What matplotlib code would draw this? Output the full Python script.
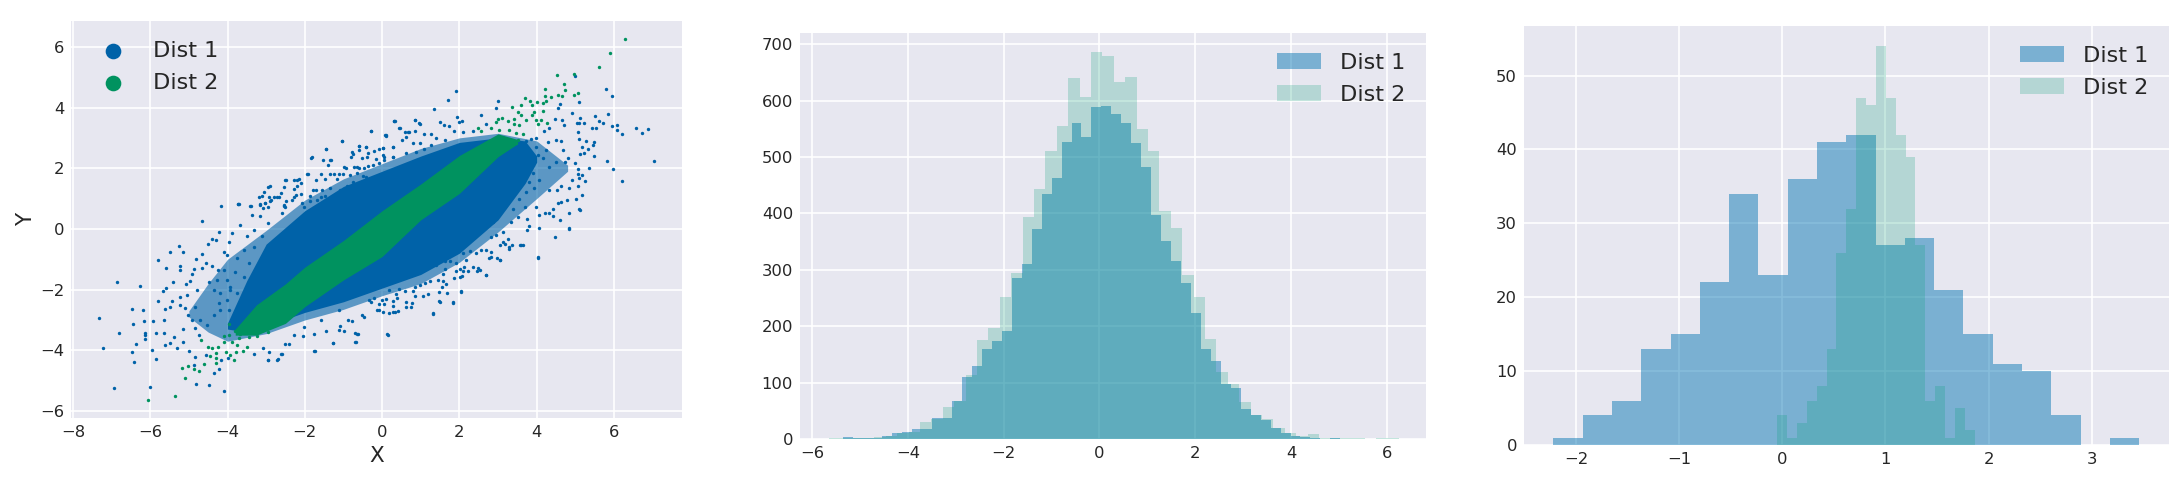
import numpy as np
import matplotlib
matplotlib.use('Agg')
import matplotlib.pyplot as plt

# Scatter points (sparse part of each cloud)
blue_pts = [
    (-4.18,.77),(-4.65,.27),(-3.72,.81),(-3.43,.74),(-5.25,-.57),(-5.48,-.75),(-5.14,-.75),(-5.81,-1.01),(-5.58,-1.29),
    (-5.24,-1.23),(-5.23,-1.37),(-6.86,-1.76),(-6.26,-1.88),(-5.42,-1.74),(-5.58,-1.95),(-5.66,-2.03),(-5.81,-2.36),
    (-5.43,-2.36),(-5.22,-2.52),(-6.48,-2.64),(-6.19,-2.66),(-5.48,-2.58),(-5.62,-2.65),(-7.33,-2.93),(-6.16,-3.03),
    (-6.45,-3.12),(-5.92,-3.04),(-5.64,-3.0),(-6.81,-3.42),(-6.14,-3.42),(-6.13,-3.51),(-5.85,-3.42),(-5.64,-3.44),
    (-6.14,-3.64),(-6.38,-3.78),(-7.21,-3.93),(-5.62,-3.81),(-5.48,-3.75),(-5.32,-3.93),(-5.95,-4.0),(-6.48,-4.05),
    (-6.42,-4.38),(-5.85,-4.30),(-5.0,-4.02),(-4.84,-4.23),(-4.88,-4.48),(-4.56,-4.14),(-4.35,-4.76),(-4.22,-4.63),
    (-4.81,-5.1),(-4.48,-5.13),(-4.08,-5.35),(-6.0,-5.2),(-6.93,-5.25),(-4.16,-4.32),(-4.0,-4.25),(-3.32,-4.13),
    (-2.94,-4.32),(-2.7,-4.29),(-2.6,-4.11),(-2.92,-4.04),(-3.08,-3.93),(-2.42,-3.78),(-1.73,-4.02),(-1.26,-3.75),
    (-.68,-3.71),(-.69,-3.42),(-.62,-3.45),(-.98,-3.38),(-1.45,-3.38),(-1.76,-3.45),(-2.04,-3.54),(-2.29,-3.49),
    (-1.09,-3.2),(-.78,-3.03),(-.46,-2.89),(-5.07,-1.82),(-4.97,-1.71),(-4.91,-1.48),(-4.86,-1.32),(-4.82,-.99),
    (-4.66,-.84),(-4.51,-.51),(-4.39,-.32),(-4.29,-.35),(-4.21,-.11),(-3.96,-.44),(-3.89,-.12),(-3.67,.13),(-3.37,.46),
    (-3.15,.41),(-4.55,-1.13),(-4.39,-1.21),(-4.67,-1.3),(-4.25,-1.37),(-4.1,-1.37),(-4.28,-1.68),(-4.49,-1.74),
    (-4.8,-2.01),(-5.06,-2.18),(-5.23,-2.23),(-4.84,-2.56),(-5.1,-2.62),(-5.01,-2.84),(-4.71,-3.0),(-4.93,-3.0),
    (-4.54,-3.16),(-4.84,-3.27),(-5.14,-3.31),(-5.38,-3.55),(-4.75,-3.49),(-5.14,-3.71),(-4.36,-2.84),(-4.19,-2.67),
    (-4.02,-2.34),(-4.19,-2.12),(-4.36,-2.01),(-3.93,-1.9),(-3.76,-2.12),(-3.8,-1.41),(-3.58,-1.57),(-3.45,-1.13),
    (-3.76,-.97),(-4.02,-.86),(-3.58,-.69),(-3.32,-.58),(-3.11,-.25),(-3.5,-.25),(-3.32,-.03),(-4.1,-.75),(-4.02,-1.68),
    (-4.23,-2.45),(-3.97,-2.67),(-3.58,-2.56),(-3.76,-2.84),(-3.5,-2.34),(-3.93,-2.01),(-3.32,-2.01),(-3.11,-2.23),
    (-3.2,-1.63),(-2.98,-1.24),(-3.06,-.91),(-2.85,-.47),(-2.94,.19),(-2.59,.52),(-3.15,.79),(-3.02,.85),(-2.89,.92),
    (-2.55,.79),(1.91,4.56),(1.71,4.26),(1.35,3.95),(3.0,4.2),(2.94,3.99),(2.56,3.75),(1.94,3.68),(2.07,3.54),(1.98,3.51),
    (.84,3.6),(.32,3.57),(.95,3.48),(1.5,3.53),(1.61,3.41),(1.74,3.4),(1.87,3.23),(.46,3.32),(.09,3.08),(.58,3.18),
    (.69,3.19),(.84,3.21),(.62,3.02),(.51,2.93),(.28,2.71),(.02,2.66),(1.09,3.13),(1.27,3.13),(1.4,2.99),(1.64,2.93),
    (.79,2.82),(.97,2.82),(1.27,2.77),(1.09,2.64),(.28,2.38),(.02,2.42),(.62,2.49),(.88,2.55),(2.69,3.46),(2.34,3.23),
    (2.09,3.19),(5.84,3.77),(5.79,4.61),(5.96,4.38),(4.98,5.04),(5.09,4.19),(4.54,3.98),(4.61,4.1),(4.91,3.81),(5.13,3.65),
    (5.1,3.5),(5.22,3.48),(5.05,3.48),(5.51,3.71),(5.6,3.55),(5.42,3.32),(5.53,3.31),(5.72,3.48),(5.94,3.38),(6.09,3.42),
    (6.08,3.27),(6.2,3.14),(6.57,3.32),(6.73,3.17),(6.88,3.29),(7.04,2.23),(5.82,2.23),(5.98,1.96),(6.22,1.57),(5.49,2.41),
    (5.45,2.77),(5.49,2.86),(5.28,2.88),(5.1,2.96),(5.08,3.2),(5.32,2.63),(5.18,2.71),(5.13,2.47),(5.22,2.49),(4.99,2.17),
    (5.36,2.0),(4.8,2.33),(4.67,2.6),(4.72,2.22),(5.06,1.98),(5.08,1.8),(5.1,1.67),(5.25,1.58),(5.16,1.76),(4.91,1.61),
    (4.83,1.34),(5.06,1.41),(5.17,1.12),(5.03,.97),(5.1,.64),(4.84,.53),(4.61,.29),(4.84,.04),(4.47,-.27),(4.42,.42),
    (4.43,.67),(4.54,.86),(4.63,.89),(4.52,1.28),(4.63,1.42),(4.33,1.28),(4.07,.45),(4.05,.03),(4.22,.53),(3.81,.09),
    (3.75,.34),(3.7,.71),(3.98,.73),(4.33,2.05),(4.5,2.22),(4.16,2.33),(4.03,2.44),(4.24,2.6),(4.28,2.86),(4.5,2.93),
    (4.63,2.9),(4.33,3.32),(4.2,3.21),(4.48,3.62),(4.65,3.6),(4.7,3.43),(3.98,2.99),(3.85,2.97),(3.72,2.88),(3.98,2.71),
    (3.77,2.0),(3.68,1.83),(3.9,1.83),(4.07,1.61),(3.81,1.56),(3.72,1.23),(3.94,1.34),(3.55,1.0),(3.38,.67),(3.51,.4),
    (3.34,.23),(3.12,-.1),(2.95,-.2),(3.6,-.54),(3.25,-.32),(3.42,1.34),(3.25,1.0),(2.86,.23),(2.52,-.1),(2.09,-.2),
    (1.66,-.32),(3.12,-.43),(2.82,-.26),(4.03,-.95),(2.7,-1.53),(2.05,-2.08),(1.32,-2.79),(1.84,-2.44),(1.49,-2.41),
    (.14,-3.48),(-.71,-3.73),(3.05,-1.03),(3.57,-.54),(2.53,-1.36),(2.13,-1.25),(1.66,-1.8),(1.2,-2.13),(.74,-2.57),
    (.28,-2.74),(-.07,-2.68),(-.3,-2.41),(-.53,-2.85),(-.88,-3.01),(-.65,-3.45),(-1.28,-3.76),(-1.75,-4.02),(-1.11,-3.34),
    (-1.11,-2.68),(-1.57,-3.01),(-2.03,-3.23),(-2.5,-3.78),(-2.96,-4.33),(-2.73,-4.31),(-2.61,-4.11),(2.01,-1.58),(2.82,-.92),
    (3.28,-.59),(3.75,-.04),(4.32,.51),(4.79,.95),(5.13,.62),(4.84,.01),(-.3,3.22),(-1.05,2.89),(-1.46,2.62),(-1.83,2.34),
    (-1.34,2.26),(-1.94,1.81),(-2.5,1.6),(-2.21,1.6),(-2.96,1.38),(-3.19,1.05),(-3.73,.81),(-.6,2.73),(-.42,2.7),(-.76,2.48),
    (-.65,2.04),(-.99,2.04),(-1.11,1.82),(-1.57,1.82),(-1.8,1.27),(-2.27,1.05),(-2.73,1.05),(-2.96,.73),(-2.5,.73),(-2.03,.73),
    (-1.57,1.05),(-.88,1.38),(-.42,1.71),(.05,2.26),(.34,3.56),(.1,3.05),(.86,3.58),(.97,3.47),(.45,3.31),(.68,3.2),
    # upper edge of the cloud
    (-3.69,.83),(-3.05,1.21),(-2.9,1.4),(-2.49,1.62),(-2.28,1.62),(-2.15,1.64),(-2.09,1.51),(-1.92,1.81),(-1.81,2.36),
    (-1.53,2.26),(-1.32,2.26),(-1.39,2.09),(-1.44,2.62),(-1.04,2.89),(-.29,3.22),(.08,3.08),(.31,3.56),(-.79,2.52),(-.8,2.38),
    (-.6,2.74),(-.6,2.6),(-.41,2.71),(-.22,2.58),(-.09,2.62),(.02,2.66),(.27,2.71),(-.37,2.49),(-.52,2.33),(-.38,2.38),
    (-.17,2.3),(.06,2.38),(.27,2.38),(-.94,2.0),(-.73,2.03),(-.6,2.0),(-.48,2.0),(-.37,2.08),(-.24,2.09),(-.07,2.16),
    (-1.36,1.81),(-1.24,1.81),(-1.0,1.81),(-.83,1.78),(-.66,1.84),(-.49,1.73),(-1.7,1.62),(-1.47,1.64),(-1.17,1.64),
    (-2.54,1.38),(-2.28,1.31),(-2.2,1.4),(-2.62,1.18),(-3.11,1.1),(-2.92,1.05),(-2.79,1.06),(-2.66,1.05),(-2.22,1.13),
    (-2.09,1.16),(-1.87,1.09),(-1.72,1.29),(-1.56,1.29),(-1.34,1.34),(-3.17,.83),(-3.02,.85),(-2.88,.96),(-2.49,.91),
    (-2.32,.94),(-2.07,.85),(-1.86,.91),(-1.69,.96),(-1.47,1.07),(-3.4,.77),(-3.09,.69),(-2.54,.77),(-1.09,1.29),(-.92,1.4),
    (-.75,1.56),(-1.34,.85),(-1.17,1.07),
    # lower edge of the cloud
    (4.04,-.91),(3.64,-.53),(3.35,-.53),(3.18,-.49),(3.06,-.52),(3.29,-.65),(3.06,-1.03),(2.98,-.96),(2.76,-.95),(2.83,-.77),
    (2.7,-.71),(2.57,-.7),(2.42,-.79),(2.68,-1.51),(2.48,-1.29),(2.46,-1.4),(2.35,-1.25),(2.23,-1.4),(2.1,-1.4),(2.01,-1.32),
    (1.9,-1.4),(2.07,-1.56),(1.86,-1.63),(1.62,-1.32),(1.58,-1.48),(1.58,-1.73),(1.45,-1.69),(1.55,-1.93),(1.47,-2.08),
    (1.69,-2.11),(2.04,-2.05),(1.47,-2.38),(1.84,-2.41),(1.06,-2.2),(.84,-2.2),(.77,-2.44),(.62,-2.41),(.62,-2.57),(1.31,-2.77),
    (.41,-2.71),(.34,-2.75),(.17,-2.77),(.03,-2.74),(-.14,-2.68),(.13,-3.46),(.06,-2.49),(-.09,-2.47),(.29,-2.53),(.28,-2.36),
    (.38,-2.27),(.10,-2.3),(0,-2.33),(-.2,-2.27),(-.33,-2.33),(.8,-2.05),(.58,-2.05),(.43,-1.98),(.19,-2),(.36,-2.16),(.97,-1.84),
    (.86,-1.92),(1.23,-1.73),(1.1,-1.78),(1.92,-1.12),(1.75,-1.07),(1.62,-1.07),(2.18,-1.01),(2.1,-.79),(2.27,-.74),(1.4,-1.18),
    (1.19,-1.18),
]
green_pts = [
    (-6.07,-5.65),(-5.36,-5.49),(-5.1,-4.92),(-5.19,-4.59),(-5.03,-4.53),(-4.88,-4.62),(-4.75,-4.68),(-4.62,-4.44),
    (-4.29,-4.41),(-4.51,-3.89),(-4.39,-3.93),(-4.45,-4.19),(-4.3,-4.1),(-4.29,-4.26),(-4.25,-3.89),(-4.69,-3.67),
    (-3.84,-4.33),(-3.93,-4.15),(-4.04,-4.04),(-3.77,-4.04),(-3.61,-4.01),(-3.5,-3.88),(-3.76,-3.82),(-3.89,-3.71),
    (-4.1,-3.71),(-4.1,-3.53),(-3.97,-3.49),(-3.8,-3.36),(-3.67,-3.47),(-3.45,-3.55),(-3.24,-3.53),(-2.94,-3.41),
    (-3.71,-3.6),(-3.97,-3.14),(6.28,6.25),(5.89,5.79),(5.6,5.32),(4.96,5.11),(4.52,5.06),(4.7,4.78),(4.73,4.59),
    (4.21,4.62),(4.97,4.41),(5.06,4.47),(4.54,4.42),(4.65,4.37),(4.37,4.36),(4.22,4.38),(3.69,4.31),(3.83,4.22),(4.0,4.19),
    (4.24,4.22),(4.16,4.15),(3.59,4.08),(3.88,4.08),(3.36,4.02),(4.16,3.9),(3.94,3.85),(3.88,3.76),(3.51,3.85),(3.59,3.74),
    (3.72,3.6),(3.98,3.6),(4.11,3.6),(3.4,3.62),(2.99,3.63),(3.09,3.65),(3.25,3.54),(2.95,3.52),(3.41,3.45),(3.55,3.43),
    (4.03,3.45),(4.26,3.48),(2.47,3.31),(2.56,3.23),(2.82,3.32),(3.03,3.27),(3.29,3.27),(3.47,3.16),(3.64,3.12),(3.51,2.93),
    (3.47,2.82),
]

# The dense middle of each cloud can't be read point by point, so it is
# drawn as filled bands (x, lower edge, upper edge). The "mid" band stands in for the speckled zone.
blue_mid_x = [-5, -4.5, -4, -3, -2, -1, 0, 1, 2, 3, 4, 4.8]
blue_mid_up = [-2.7, -1.8, -1.0, -.05, .95, 1.65, 2.15, 2.65, 3.0, 3.15, 2.9, 2.1]
blue_mid_lo = [-2.9, -3.4, -3.7, -3.45, -3.0, -2.65, -2.2, -1.8, -1.1, -.1, 1.0, 1.9]
blue_core_x = [-4, -3.5, -3, -2, -1, 0, 1, 2, 3, 3.7, 4]
blue_core_up = [-3.1, -1.7, -.5, .6, 1.4, 1.9, 2.4, 2.85, 3.0, 2.9, 2.4]
blue_core_lo = [-3.3, -3.4, -3.2, -2.75, -2.4, -1.95, -1.5, -.8, .3, 1.5, 2.2]
green_core_x = [-3.8, -3.25, -2.5, -2, -1, 0, 1, 2, 3, 3.5]
green_core_up = [-3.3, -2.5, -1.81, -1.26, -.38, .6, 1.48, 2.42, 3.13, 2.95]
green_core_lo = [-3.5, -3.5, -3.11, -2.56, -1.68, -.91, .3, 1.17, 2.38, 2.8]

# Middle histogram
mid_counts1 = [3, 1, 1, 2, 6, 10, 12, 18, 18, 38, 37, 68, 110, 130, 160, 173, 192, 285, 311, 373, 434, 462, 527, 560, 535,
               588, 590, 577, 560, 525, 483, 398, 352, 316, 277, 224, 159, 139, 98, 90, 53, 43, 34, 20, 11, 6, 3, 2, 0, 2]
mid_counts2 = [2, 1, 1, 2, 4, 6, 10, 12, 31, 36, 56, 68, 113, 176, 197, 252, 295, 394, 443, 510, 555, 641, 606,
               686, 680, 633, 642, 549, 510, 405, 375, 290, 252, 178, 118, 98, 65, 43, 35, 20, 10, 6, 8, 2, 1, 1, 1, 0, 2, 1]
mid_range1 = (-5.36, 5.03)
mid_range2 = (-5.65, 6.25)

# Right histogram
right_counts1 = [1, 4, 6, 13, 15, 22, 34, 23, 36, 41, 42, 27, 28, 21, 15, 11, 10, 4, 0, 1]
right_counts2 = [4, 1, 3, 6, 8, 13, 26, 32, 47, 46, 54, 47, 42, 39, 27, 6, 8, 1, 5, 2]
right_range1 = (-2.22, 3.46)
right_range2 = (-0.05, 1.865)

labels = ['Dist 1', 'Dist 2']
BLUE = '#0072B2'
GREEN = '#009E73'
DOT_BLUE = '#0062A8'
DOT_GREEN = '#00925F'

W, H = 2182, 482
fig = plt.figure(figsize=(W / 100, H / 100), dpi=100, facecolor='white')


def make_axes(left, right, top, bottom):
    ax = fig.add_axes([left / W, 1 - bottom / H, (right - left) / W, (bottom - top) / H])
    ax.set_facecolor('#E7E7F0')
    ax.grid(True, color='white', lw=1.2)
    ax.set_axisbelow(True)
    for s in ax.spines.values():
        s.set_visible(False)
    ax.tick_params(length=0, labelsize=11.8, labelcolor='#262626', pad=5)
    return ax


def draw_hist(ax, counts1, range1, counts2, range2):
    for counts, rng, c, a, lab in [(counts1, range1, BLUE, 0.47, labels[0]), (counts2, range2, GREEN, 0.22, labels[1])]:
        edges = np.linspace(rng[0], rng[1], len(counts) + 1)
        ax.hist(edges[:-1], bins=edges, weights=counts, histtype='stepfilled', color=c, alpha=a, lw=0, label=lab)
    leg = ax.legend(loc='upper right', fontsize=16.1, frameon=False, labelspacing=0.52, handletextpad=0.85)
    for t in leg.get_texts():
        t.set_color('#262626')


# Scatter
ax1 = make_axes(71, 682, 21, 418)
bx, by = zip(*blue_pts)
gx, gy = zip(*green_pts)
ax1.fill_between(blue_mid_x, blue_mid_lo, blue_mid_up, color=DOT_BLUE, alpha=0.6, lw=0, zorder=2)
ax1.fill_between(blue_core_x, blue_core_lo, blue_core_up, color=DOT_BLUE, lw=0, zorder=2)
ax1.scatter(bx, by, s=6, color=DOT_BLUE, lw=0, label=labels[0], zorder=2)
ax1.fill_between(green_core_x, green_core_lo, green_core_up, color=DOT_GREEN, lw=0, zorder=3)
ax1.scatter(gx, gy, s=6, color=DOT_GREEN, lw=0, label=labels[1], zorder=3)
ax1.set_xlim(-8.05, 7.76)
ax1.set_ylim(-6.23, 6.85)
ax1.set_xticks(np.arange(-8, 7, 2))
ax1.set_yticks(np.arange(-6, 7, 2))
ax1.set_xlabel('X', fontsize=15.5, color='#262626', labelpad=4)
ax1.set_ylabel('Y', fontsize=15.5, color='#262626', labelpad=3)
leg = ax1.legend(loc='upper left', fontsize=16.1, frameon=False, markerscale=4.6, labelspacing=0.52, handletextpad=0.75)
for t in leg.get_texts():
    t.set_color('#262626')

# Middle
ax2 = make_axes(800, 1426, 33, 439)
draw_hist(ax2, mid_counts1, mid_range1, mid_counts2, mid_range2)
ax2.set_xlim(-6.25, 6.82)
ax2.set_ylim(0, 720)
ax2.set_xticks(np.arange(-6, 7, 2))
ax2.set_yticks(np.arange(0, 701, 100))

# Right
ax3 = make_axes(1524, 2169, 26, 445)
draw_hist(ax3, right_counts1, right_range1, right_counts2, right_range2)
ax3.set_xlim(-2.505, 3.75)
ax3.set_ylim(0, 56.7)
ax3.set_xticks(np.arange(-2, 4))
ax3.set_yticks(np.arange(0, 51, 10))

fig.savefig('out.png', dpi=100)
